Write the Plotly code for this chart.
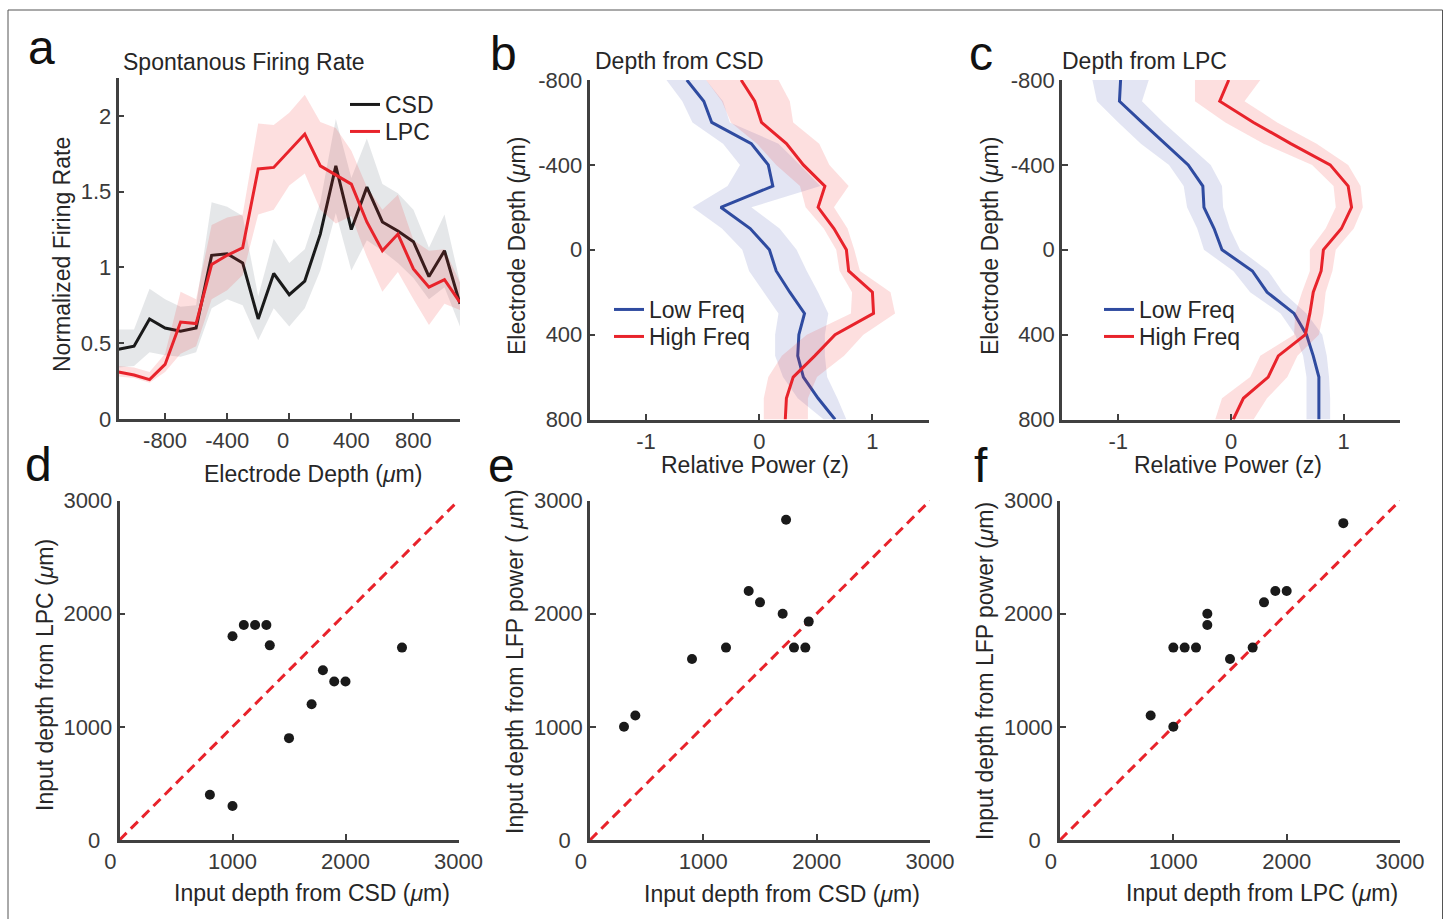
import plotly.graph_objects as go

W, H = 1448, 919
FONT = "Liberation Sans, Arial, sans-serif"
AX = "#404040"
TXT = "#262626"

# ---------------- data ----------------
depth_a = [-1100, -1000, -900, -800, -700, -600, -500, -400, -300, -200, -100, 0,
           100, 200, 300, 400, 500, 600, 700, 800, 900, 1000, 1100]
csd_rate = [0.46, 0.48, 0.66, 0.60, 0.58, 0.60, 1.08, 1.09, 1.03, 0.66, 0.96, 0.82,
            0.91, 1.22, 1.67, 1.25, 1.53, 1.30, 1.24, 1.17, 0.94, 1.11, 0.76]
csd_upper = [0.59, 0.59, 0.86, 0.79, 0.74, 0.75, 1.43, 1.40, 1.34, 0.81, 1.19, 1.03,
             1.12, 1.43, 1.98, 1.59, 1.85, 1.55, 1.49, 1.38, 1.13, 1.35, 0.90]
csd_lower = [0.34, 0.35, 0.44, 0.42, 0.41, 0.44, 0.73, 0.79, 0.75, 0.52, 0.73, 0.61,
             0.73, 0.98, 1.36, 0.98, 1.18, 1.11, 1.03, 0.93, 0.79, 0.87, 0.61]
lpc_rate = [0.31, 0.29, 0.26, 0.36, 0.64, 0.63, 1.02, 1.08, 1.13, 1.65, 1.66, 1.77,
            1.88, 1.67, 1.61, 1.55, 1.30, 1.11, 1.22, 0.99, 0.87, 0.92, 0.77]
lpc_upper = [0.35, 0.34, 0.31, 0.43, 0.84, 0.79, 1.28, 1.33, 1.35, 1.95, 1.94, 2.02,
             2.14, 1.96, 1.92, 1.77, 1.53, 1.38, 1.48, 1.18, 1.11, 1.12, 0.90]
lpc_lower = [0.28, 0.27, 0.24, 0.31, 0.43, 0.48, 0.79, 0.85, 0.95, 1.35, 1.38, 1.54,
             1.62, 1.38, 1.29, 1.34, 1.07, 0.84, 0.97, 0.79, 0.62, 0.76, 0.72]

depth_bc = [-800, -700, -600, -500, -400, -300, -200, -100, 0, 100, 200, 300, 400,
            500, 600, 700, 800]
b_low = [-0.64, -0.49, -0.42, -0.07, 0.08, 0.12, -0.34, -0.08, 0.09, 0.15, 0.27, 0.40,
         0.35, 0.34, 0.39, 0.52, 0.67]
b_low_lo = [-0.82, -0.68, -0.59, -0.32, -0.17, -0.28, -0.59, -0.33, -0.15, -0.09, 0.04,
            0.17, 0.14, 0.14, 0.21, 0.34, 0.57]
b_low_hi = [-0.47, -0.32, -0.26, 0.17, 0.36, 0.54, -0.07, 0.18, 0.33, 0.42, 0.52, 0.61,
            0.58, 0.58, 0.60, 0.69, 0.77]
b_high = [-0.16, -0.04, 0.02, 0.24, 0.39, 0.58, 0.52, 0.66, 0.77, 0.79, 1.00, 1.01,
          0.67, 0.49, 0.30, 0.24, 0.23]
b_high_lo = [-0.47, -0.33, -0.25, -0.02, 0.15, 0.36, 0.41, 0.57, 0.68, 0.71, 0.82, 0.81,
             0.42, 0.20, 0.08, 0.04, 0.04]
b_high_hi = [0.17, 0.27, 0.30, 0.53, 0.62, 0.79, 0.66, 0.78, 0.84, 0.89, 1.16, 1.20,
             0.92, 0.75, 0.51, 0.43, 0.43]

c_low = [-0.98, -0.99, -0.79, -0.58, -0.38, -0.25, -0.24, -0.15, -0.08, 0.19, 0.32,
         0.56, 0.67, 0.73, 0.78, 0.78, 0.78]
c_low_lo = [-1.23, -1.19, -1.00, -0.80, -0.55, -0.42, -0.39, -0.30, -0.24, 0.02, 0.17,
            0.44, 0.57, 0.64, 0.67, 0.67, 0.67]
c_low_hi = [-0.73, -0.79, -0.60, -0.39, -0.18, -0.08, -0.07, -0.01, 0.08, 0.33, 0.46,
            0.67, 0.81, 0.85, 0.87, 0.88, 0.88]
c_high = [-0.02, -0.10, 0.20, 0.53, 0.88, 1.04, 1.07, 0.98, 0.82, 0.80, 0.73, 0.70,
          0.66, 0.42, 0.33, 0.11, 0.02]
c_high_lo = [-0.32, -0.32, -0.05, 0.29, 0.72, 0.91, 0.93, 0.84, 0.70, 0.70, 0.63, 0.57,
             0.56, 0.26, 0.17, -0.08, -0.14]
c_high_hi = [0.26, 0.12, 0.41, 0.76, 1.04, 1.15, 1.17, 1.09, 0.93, 0.90, 0.84, 0.82,
             0.78, 0.59, 0.50, 0.32, 0.20]

d_csd = [800, 1000, 1000, 1100, 1200, 1300, 1330, 1500, 1700, 1800, 1900, 2000, 2500]
d_lpc = [400, 300, 1800, 1900, 1900, 1900, 1720, 900, 1200, 1500, 1400, 1400, 1700]
e_csd = [300, 400, 900, 1200, 1400, 1500, 1700, 1730, 1800, 1900, 1930]
e_lfp = [1000, 1100, 1600, 1700, 2200, 2100, 2000, 2830, 1700, 1700, 1930]
f_lpc = [800, 1000, 1000, 1100, 1200, 1300, 1300, 1500, 1700, 1800, 1900, 2000, 2500]
f_lfp = [1100, 1000, 1700, 1700, 1700, 2000, 1900, 1600, 1700, 2100, 2200, 2200, 2800]
identity = [0, 3000]

# tick labels
a_xticks = [-800, -400, 0, 400, 800]
a_xtext = ["-800", "-400", "0\u00a0\u00a0", "400", "800"]
a_yticks = [0, 0.5, 1, 1.5, 2]
a_ytext = ["0", "0.5", "1", "1.5", "2"]
bc_yticks = [-800, -400, 0, 400, 800]
bc_ytext = ["-800", "-400", "0", "400", "800"]
bc_xticks = [-1, 0, 1]
bc_xtext = ["-1", "0", "1"]
s_ticks = [0, 1000, 2000, 3000]
s_xtext = ["0\u00a0\u00a0\u00a0", "1000", "2000", "3000"]
s_ytext = ["0\u00a0\u00a0", "1000", "2000", "3000"]

# ---------------- styles ----------------
BLACK = "#1a1a1a"
RED = "#e8232b"
BLUE = "#2f4ba0"
GREY_FILL = "rgba(150,160,168,0.25)"
RED_FILL = "rgba(240,40,40,0.15)"
BLUE_FILL = "rgba(60,70,170,0.14)"
TICK_SIZE = 22
LAB_SIZE = 23

fig = go.Figure()


def vband(x, lo, hi, color, xa, ya):
    fig.add_trace(go.Scatter(x=x + x[::-1], y=hi + lo[::-1], fill="toself",
                             fillcolor=color, line=dict(width=0), mode="lines",
                             showlegend=False, hoverinfo="skip", xaxis=xa, yaxis=ya))


def hband(y, lo, hi, color, xa, ya):
    fig.add_trace(go.Scatter(x=lo + hi[::-1], y=y + y[::-1], fill="toself",
                             fillcolor=color, line=dict(width=0), mode="lines",
                             showlegend=False, hoverinfo="skip", xaxis=xa, yaxis=ya))


def line(x, y, name, color, xa, ya, legend):
    fig.add_trace(go.Scatter(x=x, y=y, mode="lines", name=name,
                             line=dict(color=color, width=3), xaxis=xa, yaxis=ya,
                             legend=legend, hoverinfo="skip"))


# panel a
vband(depth_a, csd_lower, csd_upper, GREY_FILL, "x", "y")
line(depth_a, csd_rate, "CSD", BLACK, "x", "y", "legend")
vband(depth_a, lpc_lower, lpc_upper, RED_FILL, "x", "y")
line(depth_a, lpc_rate, "LPC", RED, "x", "y", "legend2")

# panel b
hband(depth_bc, b_low_lo, b_low_hi, BLUE_FILL, "x2", "y2")
line(b_low, depth_bc, "Low Freq", BLUE, "x2", "y2", "legend3")
hband(depth_bc, b_high_lo, b_high_hi, RED_FILL, "x2", "y2")
line(b_high, depth_bc, "High Freq", RED, "x2", "y2", "legend4")

# panel c
hband(depth_bc, c_low_lo, c_low_hi, BLUE_FILL, "x3", "y3")
line(c_low, depth_bc, "Low Freq", BLUE, "x3", "y3", "legend5")
hband(depth_bc, c_high_lo, c_high_hi, RED_FILL, "x3", "y3")
line(c_high, depth_bc, "High Freq", RED, "x3", "y3", "legend6")

# scatter panels
for xs, ys, xa, ya in [(d_csd, d_lpc, "x4", "y4"), (e_csd, e_lfp, "x5", "y5"),
                       (f_lpc, f_lfp, "x6", "y6")]:
    fig.add_trace(go.Scatter(x=identity, y=identity, mode="lines",
                             line=dict(color=RED, width=3, dash="10px,6px"),
                             showlegend=False, xaxis=xa, yaxis=ya))
    fig.add_trace(go.Scatter(x=xs, y=ys, mode="markers",
                             marker=dict(color=BLACK, size=10),
                             showlegend=False, xaxis=xa, yaxis=ya))

# ---------------- axes ----------------
def px_x(a, b):
    return [a / W, b / W]


def px_y(top, bottom):
    return [1 - bottom / H, 1 - top / H]


base = dict(showline=True, linecolor=AX, linewidth=2.5, ticks="inside", ticklen=6,
            tickwidth=2, tickcolor=AX, showgrid=False, zeroline=False,
            tickfont=dict(family=FONT, size=TICK_SIZE, color="#3a3a3a"),
            fixedrange=True, tickmode="array", automargin=False)

lay = {}
lay["xaxis"] = dict(base, domain=px_x(118.5, 460), range=[-1100, 1100], anchor="y",
                    tickvals=a_xticks, ticktext=a_xtext)
lay["yaxis"] = dict(base, domain=px_y(78, 419), range=[0, 2.25], anchor="x",
                    tickvals=a_yticks, ticktext=a_ytext)
lay["xaxis2"] = dict(base, domain=px_x(589.5, 929), range=[-1.5, 1.5], anchor="y2",
                     tickvals=bc_xticks, ticktext=bc_xtext)
lay["yaxis2"] = dict(base, domain=px_y(80, 419.5), range=[800, -800], anchor="x2",
                     tickvals=bc_yticks, ticktext=bc_ytext)
lay["xaxis3"] = dict(base, domain=px_x(1062, 1400), range=[-1.5, 1.5], anchor="y3",
                     tickvals=bc_xticks, ticktext=bc_xtext)
lay["yaxis3"] = dict(base, domain=px_y(80, 419.5), range=[800, -800], anchor="x3",
                     tickvals=bc_yticks, ticktext=bc_ytext)
for i, (x0, x1) in zip([4, 5, 6], [(119.5, 458.5), (590, 930), (1060, 1400)]):
    lay[f"xaxis{i}"] = dict(base, domain=px_x(x0, x1), range=[0, 3000], anchor=f"y{i}",
                            tickvals=s_ticks, ticktext=s_xtext)
    lay[f"yaxis{i}"] = dict(base, domain=px_y(500.5, 840), range=[0, 3000],
                            anchor=f"x{i}", tickvals=s_ticks, ticktext=s_ytext)

# ---------------- legends (one entry each, placed by pixel) ----------------
leg = dict(bgcolor="rgba(0,0,0,0)", borderwidth=0, xanchor="left", yanchor="top",
           font=dict(family=FONT, size=LAB_SIZE, color=TXT), tracegroupgap=0,
           itemclick=False, itemdoubleclick=False)
legend_pos = {"legend": (345, 104), "legend2": (345, 131),
              "legend3": (609, 309), "legend4": (609, 336),
              "legend5": (1099, 309), "legend6": (1099, 336)}
for key, (lx, ly) in legend_pos.items():
    lay[key] = dict(leg, x=lx / W, y=1 - (ly - 21) / H)

# ---------------- annotations ----------------
ann = []


def text(s, x, y, size=LAB_SIZE, angle=0, xanchor="center", yanchor="middle",
         color=TXT):
    ann.append(dict(text=s, x=x / W, y=1 - y / H, xref="paper", yref="paper",
                    showarrow=False, textangle=angle, xanchor=xanchor,
                    yanchor=yanchor, font=dict(family=FONT, size=size, color=color)))


mu = "(<i>\u03bc</i>m)"
# panel letters
for s, x, y in [("a", 41, 47), ("b", 503, 53), ("c", 981, 53),
                ("d", 38, 464), ("e", 501, 466), ("f", 981, 466)]:
    text(s, x, y, size=48, color="#111111")
# titles
text("Spontanous Firing Rate", 121, 62, xanchor="left")
text("Depth from CSD", 593, 61, xanchor="left")
text("Depth from LPC", 1060, 61, xanchor="left")
# x-axis titles
text("Electrode Depth " + mu, 313, 474)
text("Relative Power (z)", 755, 465)
text("Relative Power (z)", 1228, 465)
text("Input depth from CSD " + mu, 312, 893)
text("Input depth from CSD " + mu, 782, 894)
text("Input depth from LPC " + mu, 1262, 893)
# y-axis titles
text("Normalized Firing Rate", 62, 255, angle=-90)
text("Electrode Depth " + mu, 517, 246, angle=-90)
text("Electrode Depth " + mu, 990, 246, angle=-90)
text("Input depth from LPC " + mu, 45, 675, angle=-90)
text("Input depth from LFP power ( <i>\u03bc</i>m)", 515, 662, angle=-90)
text("Input depth from LFP power " + mu, 985, 671, angle=-90)

lay["annotations"] = ann
lay["shapes"] = [dict(type="rect", xref="paper", yref="paper", x0=8 / W, x1=1442.5 / W,
                      y0=-0.02, y1=1 - 10 / H, line=dict(color="#555555", width=1))]

fig.update_layout(**lay)
fig.update_layout(width=W, height=H,
                  margin=dict(l=0, r=0, t=0, b=0, pad=0, autoexpand=False),
                  paper_bgcolor="white", plot_bgcolor="white",
                  font=dict(family=FONT, size=21, color=TXT), showlegend=True)

fig.write_html("out.html", config={"displayModeBar": False},
               post_script="document.body.style.margin='0';"
                           "document.body.style.overflow='hidden';")
